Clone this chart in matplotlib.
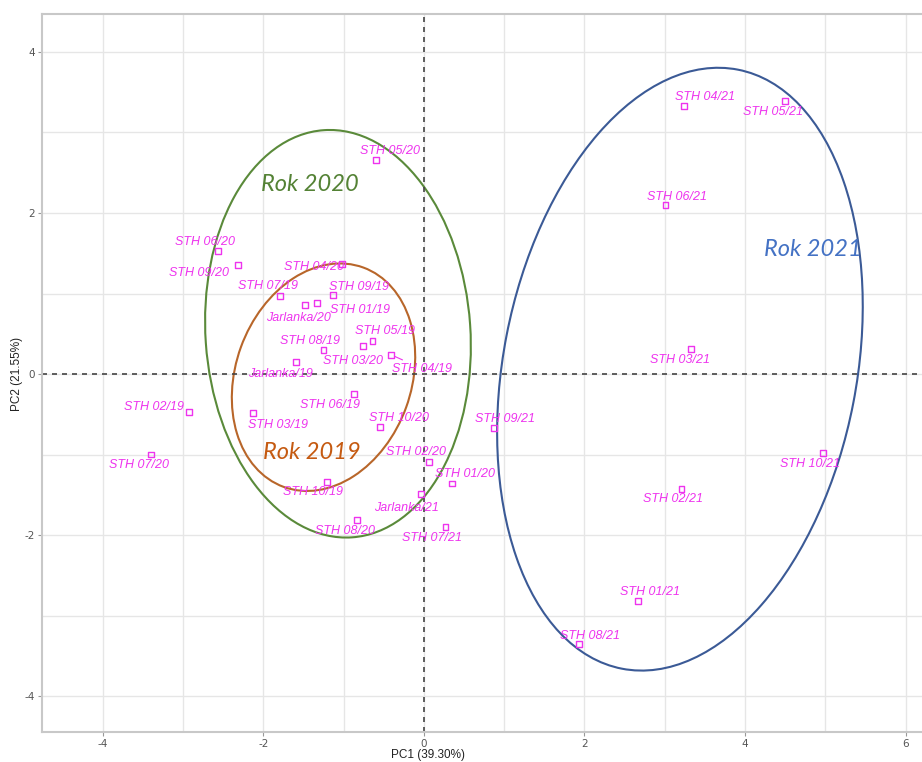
import matplotlib
matplotlib.use('Agg')
import matplotlib.pyplot as plt
from matplotlib.patches import Ellipse
from matplotlib.ticker import MultipleLocator

plt.rcParams['axes.unicode_minus'] = False

# PCA scores
names = ['STH 04/21', 'STH 05/21', 'STH 06/21', 'STH 03/21', 'STH 10/21', 'STH 02/21',
         'STH 01/21', 'STH 08/21', 'STH 09/21', 'STH 05/20', 'STH 06/20', 'STH 09/20',
         'STH 04/20', 'STH 07/19', 'Jarlanka/20', 'STH 01/19', 'STH 09/19', 'STH 05/19',
         'STH 08/19', 'STH 03/20', 'STH 04/19', 'Jarlanka/19', 'STH 06/19', 'STH 02/19',
         'STH 03/19', 'STH 10/20', 'STH 07/20', 'STH 02/20', 'STH 01/20', 'STH 10/19',
         'Jarlanka/21', 'STH 08/20', 'STH 07/21']
pc1 = [3.24, 4.50, 3.01, 3.33, 4.97, 3.21, 2.67, 1.93, 0.87, -0.60, -2.57, -2.32,
       -1.02, -1.79, -1.48, -1.33, -1.13, -0.64, -1.25, -0.76, -0.41, -1.59, -0.87, -2.93,
       -2.13, -0.55, -3.40, 0.06, 0.35, -1.21, -0.04, -0.83, 0.27]
pc2 = [3.33, 3.39, 2.10, 0.31, -0.98, -1.43, -2.82, -3.35, -0.67, 2.66, 1.53, 1.35,
       1.37, 0.97, 0.86, 0.88, 0.98, 0.41, 0.30, 0.35, 0.24, 0.15, -0.25, -0.47,
       -0.48, -0.66, -1.00, -1.09, -1.36, -1.34, -1.49, -1.81, -1.90]

# label offsets (pixels, y up) - placed by hand like ggrepel
offs = [(21, 9), (-12, -11), (12, 8), (-11, -11), (-13, -11), (-9, -10),
        (12, 9), (11, 8), (11, 9), (14, 9), (-13, 9), (-39, -8),
        (-28, -3), (-12, 10), (-7, -13), (43, -7), (26, 8), (13, 10),
        (-14, 9), (-10, -15), (31, -14), (-16, -12), (-24, -11), (-35, 5),
        (25, -12), (19, 9), (-12, -10), (-13, 10), (13, 9), (-14, -10),
        (-14, -14), (-12, -11), (-14, -11)]

# group ellipses: (x, y, width, height, angle)
groups = ['Rok 2019', 'Rok 2020', 'Rok 2021']
ell = [(-1.25, -0.04, 2.19, 2.90, -20),
       (-1.07, 0.50, 3.30, 5.07, 4),
       (3.19, 0.06, 4.40, 7.58, -11)]
ell_col = ['#b8662a', '#5a8a3a', '#3b5a96']
txt_col = ['#c55a11', '#548235', '#4472c4']
txt_pos = [(-1.40, -0.97), (-1.42, 2.35), (4.85, 1.55)]

fig = plt.figure(figsize=(9.22, 7.62), dpi=100)
ax = fig.add_axes([42/922, 30/762, 890/922, 718/762])

ax.set_xlim(-4.757, 6.33)
ax.set_ylim(-4.447, 4.472)
ax.xaxis.set_major_locator(MultipleLocator(2))
ax.yaxis.set_major_locator(MultipleLocator(2))
ax.xaxis.set_minor_locator(MultipleLocator(1))
ax.yaxis.set_minor_locator(MultipleLocator(1))
ax.grid(which='both', color='#e6e6e6', lw=1.0)
ax.set_axisbelow(True)
for s in ax.spines.values():
    s.set_color('#c8c8c8')
    s.set_linewidth(1.5)
ax.tick_params(which='major', length=3, pad=2, color='#999999', labelsize=7.5, labelcolor='#555555')
ax.tick_params(which='minor', length=0)

ax.axhline(0, color='#444444', ls=(0, (3, 3)), lw=1.2)
ax.axvline(0, color='#444444', ls=(0, (3, 3)), lw=1.2)

for i in range(len(groups)):
    x, y, w, h, a = ell[i]
    ax.add_patch(Ellipse((x, y), w, h, angle=a, fill=False, ec=ell_col[i], lw=1.5))
    ax.text(txt_pos[i][0], txt_pos[i][1], groups[i], color=txt_col[i], fontsize=17,
            fontstyle='italic', family='Lato', ha='center', va='center')

ax.scatter(pc1, pc2, marker='s', s=18, facecolors='none', edgecolors='#ee33ee', lw=1.0, zorder=4)

for i in range(len(names)):
    dx, dy = offs[i]
    kw = {}
    if names[i] == 'STH 04/19':
        kw['arrowprops'] = dict(arrowstyle='-', color='#ee33ee', lw=0.8, shrinkA=0, shrinkB=3)
    ax.annotate(names[i], (pc1[i], pc2[i]), xytext=(dx, dy), textcoords='offset pixels',
                ha='center', va='center', color='#ee33ee', fontsize=9, fontstyle='italic',
                family='Liberation Sans', zorder=5, **kw)

fig.text(428/922, 1 - 755/762, 'PC1 (39.30%)', ha='center', va='center', fontsize=8.5,
         color='#222222', family='Liberation Sans')
fig.text(17/922, 1 - 374/762, 'PC2 (21.55%)', ha='center', va='center', rotation=90,
         fontsize=8.5, color='#222222', family='Liberation Sans')

fig.savefig('out.png', dpi=100)
